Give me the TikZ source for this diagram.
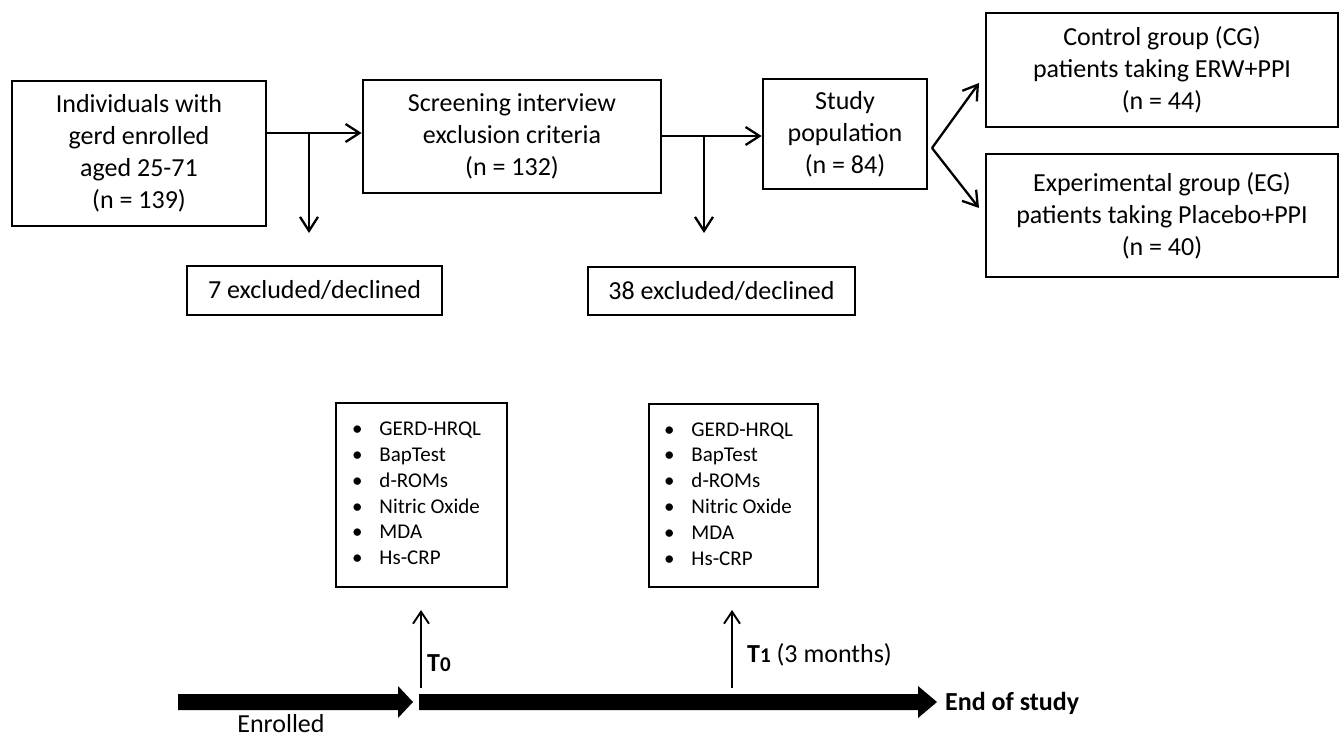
\documentclass[tikz,border=0pt]{standalone}
\usepackage{fontspec}
\setmainfont{Carlito}
\usetikzlibrary{arrows.meta,calc}
\begin{document}
\begin{tikzpicture}[x=1pt,y=-1pt,
  box/.style={draw=black,line width=2.7pt,align=center,inner sep=0pt,
    font=\fontsize{26}{32}\selectfont},
  listbox/.style={draw=black,line width=2.7pt,inner sep=0pt,
    font=\fontsize{21}{25.8}\selectfont},
  arr/.style={line width=2.3pt,-{Straight Barb[length=14pt,width=18pt,line width=2.3pt]}},
  uparr/.style={line width=1.9pt,-{Straight Barb[length=12pt,width=16pt,line width=1.9pt]}},
  lbl/.style={inner sep=0pt,font=\fontsize{26}{32}\selectfont},
  blbl/.style={inner sep=0pt,font=\fontsize{26}{32}\selectfont\bfseries},
  bigarrow/.style={fill=black}
]
\useasboundingbox (0,0) rectangle (1341,739);
\fill[white] (0,0) rectangle (1341,739);

% top flow
\node[box,minimum width=254pt,minimum height=145pt] (box1) at (139,153.5)
  {Individuals with\\gerd enrolled\\aged 25-71\\(n = 139)};
\node[box,minimum width=298pt,minimum height=113pt] (box2) at (512,136.5)
  {Screening interview\\exclusion criteria\\(n = 132)};
\node[box,minimum width=164pt,minimum height=110pt] (study) at (845,134)
  {Study\\population\\(n = 84)};
\node[box,minimum width=352pt,minimum height=114pt] (cg) at (1162,70)
  {Control group (CG)\\patients taking ERW+PPI\\(n = 44)};
\node[box,minimum width=352pt,minimum height=123pt] (eg) at (1162,215.5)
  {Experimental group (EG)\\patients taking Placebo+PPI\\(n = 40)};
\node[box,minimum width=255pt,minimum height=49pt] (ex7) at (314.5,290.5)
  {7 excluded/declined};
\node[box,minimum width=267pt,minimum height=48pt] (ex38) at (721.5,291)
  {38 excluded/declined};

\coordinate (j1) at (309,133);
\coordinate (d1) at (309,233);
\coordinate (j2) at (704,136);
\coordinate (d2) at (704,233);
\coordinate (sp) at (932,148);
\coordinate (tcg) at (979,83);
\coordinate (teg) at (979,208);

\draw[arr] (box1.east |- j1) -- (box2.west |- j1);
\draw[arr] (j1) -- (d1);
\draw[arr] (box2.east |- j2) -- (study.west |- j2);
\draw[arr] (j2) -- (d2);
\draw[arr] (sp) -- (tcg);
\draw[arr] (sp) -- (teg);

% lists
\newcommand{\measlist}{%
  \begin{tabular}{@{}l@{\hspace{17pt}}l@{\hspace{10pt}}}
  \textbullet & GERD-HRQL\\
  \textbullet & BapTest\\
  \textbullet & d-ROMs\\
  \textbullet & Nitric Oxide\\
  \textbullet & MDA\\
  \textbullet & Hs-CRP
  \end{tabular}}
\node[listbox,minimum width=171pt,minimum height=184pt] (listA) at (421.5,495) {\measlist};
\node[listbox,minimum width=169pt,minimum height=183pt] (listB) at (733.5,495.5) {\measlist};

% up arrows
\coordinate (t0b) at (421,688);
\coordinate (t0t) at (421,610);
\coordinate (t1b) at (732,688);
\coordinate (t1t) at (732,610);
\draw[uparr] (t0b) -- (t0t);
\draw[uparr] (t1b) -- (t1t);
\node[blbl,anchor=west] (t0) at (427,663) {T{\fontsize{21}{25}\selectfont 0}};
\node[lbl,anchor=west] (t1) at (747,655) {\textbf{T{\fontsize{21}{25}\selectfont 1}} (3 months)};

% timeline
\fill[bigarrow] (178,694) -- (398,694) -- (398,686) -- (413,702) -- (398,718) -- (398,710) -- (178,710) -- cycle;
\fill[bigarrow] (419,694) -- (918,694) -- (918,686) -- (937,702) -- (918,718) -- (918,710) -- (419,710) -- cycle;
\node[blbl,anchor=west] (end) at (945,703) {End of study};
\node[lbl] (enr) at (281,724) {Enrolled};
\end{tikzpicture}
\end{document}
